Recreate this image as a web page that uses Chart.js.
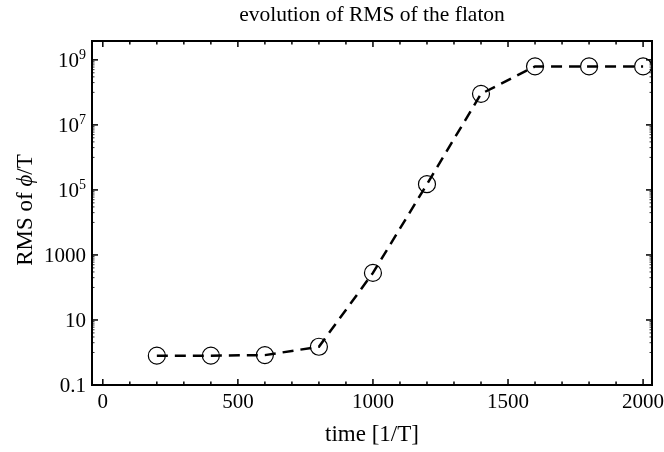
<!DOCTYPE html>
<html>
<head>
<meta charset="utf-8">
<script src="https://cdn.jsdelivr.net/npm/chart.js@4"></script>
<style>
  html, body { margin: 0; padding: 0; background: #fff; }
</style>
</head>
<body>
<canvas id="rmsChart" width="664" height="452"></canvas>
<script>
// data
const times = [200, 400, 600, 800, 1000, 1200, 1400, 1600, 1800, 2000];
const rmsValues = [0.8, 0.8, 0.83, 1.5, 280, 1.5e5, 9e7, 6.3e8, 6.3e8, 6.3e8];

const xTickValues = [0, 500, 1000, 1500, 2000];
const yTickValues = [0.1, 10, 1000, 1e5, 1e7, 1e9];
// [base, exponent] - exponent drawn as superscript
const yTickLabels = [['0.1', ''], ['10', ''], ['1000', ''], ['10', '5'], ['10', '7'], ['10', '9']];

const serif = '"Liberation Serif", "DejaVu Serif", serif';

// frame, inward ticks, y labels and the three titles (Mathematica look)
const framePlugin = {
  id: 'frame',
  afterDraw(chart) {
    const ctx = chart.ctx;
    const a = chart.chartArea;
    const x = chart.scales.x, y = chart.scales.y;
    ctx.save();
    ctx.strokeStyle = '#000';
    ctx.fillStyle = '#000';

    function seg(x1, y1, x2, y2) {
      ctx.beginPath(); ctx.moveTo(x1, y1); ctx.lineTo(x2, y2); ctx.stroke();
    }

    // x ticks, bottom and top
    ctx.lineWidth = 1.5;
    for (let v = 0; v <= 2000; v += 100) {
      const px = x.getPixelForValue(v);
      const len = v % 500 === 0 ? 6 : 3.5;
      seg(px, a.bottom, px, a.bottom - len);
      seg(px, a.top, px, a.top + len);
    }
    // y ticks, left and right
    for (let e = -1; e <= 9; e++) {
      for (let m = 1; m <= 9; m++) {
        const v = m * Math.pow(10, e);
        if (v < y.min || v > y.max) continue;
        const py = y.getPixelForValue(v);
        let len;
        if (m === 1 && Math.abs(e) % 2 === 1) { len = 6; ctx.lineWidth = 1.5; }
        else if (Math.abs(e) % 2 === 0) { len = 2.5; ctx.lineWidth = 0.8; }
        else continue;
        seg(a.left, py, a.left + len, py);
        seg(a.right, py, a.right - len, py);
      }
    }

    ctx.lineWidth = 2;
    ctx.strokeRect(a.left, a.top, a.right - a.left, a.bottom - a.top);

    // y tick labels with real superscripts
    ctx.textBaseline = 'alphabetic';
    ctx.textAlign = 'right';
    yTickValues.forEach((v, i) => {
      const py = y.getPixelForValue(v);
      const base = yTickLabels[i][0], exp = yTickLabels[i][1];
      let right = a.left - 6;
      if (exp) {
        ctx.font = '14px ' + serif;
        ctx.fillText(exp, right, py - 1);
        right -= ctx.measureText(exp).width;
      }
      ctx.font = '21px ' + serif;
      ctx.fillText(base, right, py + 7);
    });

    // title
    ctx.textAlign = 'center';
    ctx.font = '21.5px ' + serif;
    ctx.fillText('evolution of RMS of the flaton', (a.left + a.right) / 2, 21);

    // x title
    ctx.font = '23px ' + serif;
    ctx.fillText('time [1/T]', (a.left + a.right) / 2, 441);

    // y title with italic phi
    ctx.translate(32, 210);
    ctx.rotate(-Math.PI / 2);
    const parts = [['RMS of ', '23px ' + serif], ['ϕ', 'italic 23px ' + serif], ['/T', '23px ' + serif]];
    let total = 0;
    parts.forEach(p => { ctx.font = p[1]; total += ctx.measureText(p[0]).width; });
    let cx = -total / 2;
    ctx.textAlign = 'left';
    parts.forEach(p => {
      ctx.font = p[1];
      ctx.fillText(p[0], cx, 0);
      cx += ctx.measureText(p[0]).width;
    });
    ctx.restore();
  }
};

const ctx = document.getElementById('rmsChart').getContext('2d');
const rmsChart = new Chart(ctx, {
  type: 'line',
  data: {
    datasets: [{
      label: 'RMS',
      data: times.map((t, i) => ({ x: t, y: rmsValues[i] })),
      borderColor: '#000',
      borderWidth: 2.5,
      borderDash: [11, 7],
      fill: false,
      tension: 0,
      pointRadius: 8.5,
      pointBorderWidth: 1.2,
      pointBorderColor: '#000',
      pointBackgroundColor: 'rgba(0,0,0,0)'
    }]
  },
  options: {
    responsive: false,
    animation: false,
    layout: { padding: { left: 0, right: 12, top: 41, bottom: 0 } },
    plugins: {
      legend: { display: false },
      title: { display: false },
      tooltip: { enabled: false }
    },
    scales: {
      x: {
        type: 'linear',
        min: -40,
        max: 2033,
        grid: { display: false, drawTicks: false },
        border: { display: false },
        afterBuildTicks: s => { s.ticks = xTickValues.map(v => ({ value: v })); },
        afterFit: s => { s.height = 67; s.paddingLeft = 0; s.paddingRight = 0; },
        ticks: {
          color: '#000',
          font: { family: serif, size: 21 },
          padding: 5,
          maxRotation: 0,
          callback: value => String(value)
        }
      },
      y: {
        type: 'logarithmic',
        min: 0.1,
        max: 3.8e9,
        grid: { display: false, drawTicks: false },
        border: { display: false },
        afterBuildTicks: s => { s.ticks = yTickValues.map(v => ({ value: v })); },
        afterFit: s => { s.width = 92; s.paddingTop = 0; s.paddingBottom = 0; },
        ticks: { display: false }
      }
    }
  },
  plugins: [framePlugin]
});
</script>
</body>
</html>
